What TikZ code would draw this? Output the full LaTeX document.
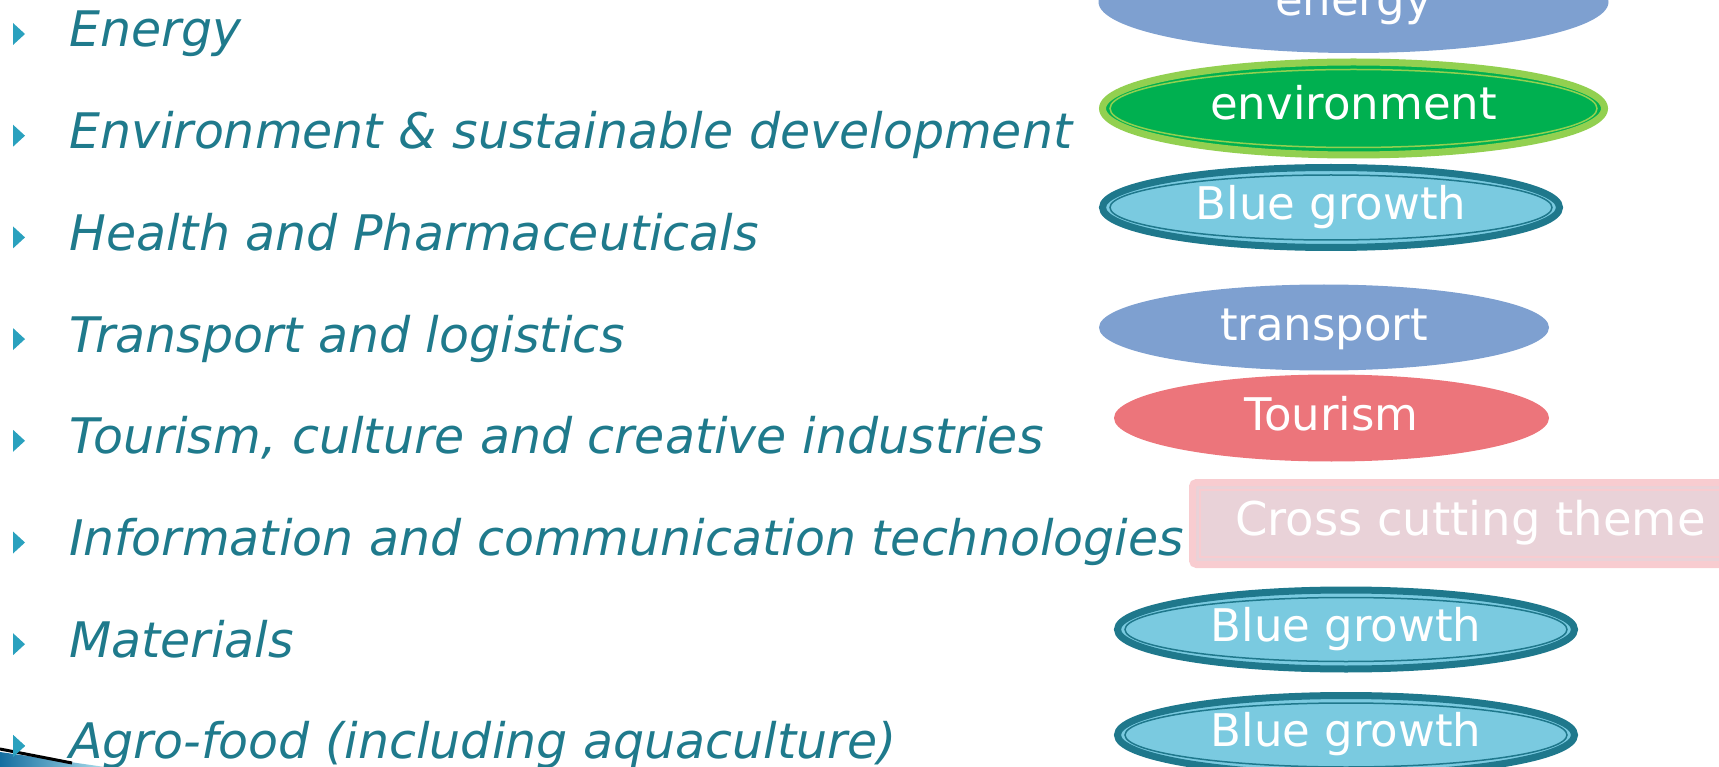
\documentclass[tikz,border=0pt]{standalone}
\usepackage{fontspec}
\setmainfont{DejaVu Sans}
\usetikzlibrary{shapes.geometric}
\definecolor{txt}{RGB}{31,122,140}
\definecolor{bulcol}{RGB}{42,161,190}
\definecolor{eblue}{RGB}{126,160,208}
\definecolor{egreen}{RGB}{0,176,80}
\definecolor{lgreen}{RGB}{146,208,80}
\definecolor{lblue}{RGB}{122,202,224}
\definecolor{dteal}{RGB}{31,120,140}
\definecolor{tred}{RGB}{236,117,123}
\definecolor{cfill}{RGB}{233,210,216}
\definecolor{cline}{RGB}{248,204,208}
\definecolor{swdark}{RGB}{20,110,160}
\definecolor{swlight}{RGB}{170,220,235}
\begin{document}
\begin{tikzpicture}[x=1pt,y=-1pt,
  item/.style={anchor=base west, inner sep=0pt, text=txt, font=\fontsize{49}{50}\selectfont\itshape},
  lab/.style={anchor=base, inner sep=0pt, text=white, font=\fontsize{45}{46}\selectfont},
  flatell/.style={ellipse, inner sep=0pt, draw=none},
  ringell/.style={ellipse, inner sep=0pt, line width=7pt},
  thinring/.style={line width=1.5pt},
]
\useasboundingbox (0,0) rectangle (1719,767);
\clip (0,0) rectangle (1719,767);

% bottom-left swoosh
\shade[left color=swdark, right color=swlight] (0,752) -- (105,767) -- (0,767) -- cycle;
\draw[black, line width=3pt] (0,749) -- (72,763);

% list items
\foreach \b in {47,148.7,250.4,352.1,453.8,555.5,657.2,758.9}
  \fill[bulcol] (13,\b-24) -- (13,\b-2) -- (25,\b-13) -- cycle;
\node[item] (i1) at (69,47)    {Energy};
\node[item] (i2) at (69,148.7) {Environment \& sustainable development};
\node[item] (i3) at (69,250.4) {Health and Pharmaceuticals};
\node[item] (i4) at (69,352.1) {Transport and logistics};
\node[item] (i5) at (69,453.8) {Tourism, culture and creative industries};
\node[item] (i6) at (69,555.5) {Information and communication technologies};
\node[item] (i7) at (69,657.2) {Materials};
\node[item] (i8) at (69,758.9) {Agro-food (including aquaculture)};

% energy
\node[flatell, fill=eblue, minimum width=510pt, minimum height=102pt] (energy) at (1353.5,2) {};
\node[lab] (energylab) at (1353.5,16) {energy};

% environment
\node[ringell, fill=egreen, draw=lgreen, minimum width=502pt, minimum height=93pt] (env) at (1353.5,108.5) {};
\draw[lgreen, thinring] (env.center) ellipse [x radius=243.5, y radius=39];
\node[lab] (envlab) at (1353.5,120) {environment};

% blue growth 1
\node[ringell, fill=lblue, draw=dteal, minimum width=457pt, minimum height=80pt] (bg1) at (1331,207.5) {};
\draw[dteal, thinring] (bg1.center) ellipse [x radius=221, y radius=32.5];
\node[lab] (bg1lab) at (1331,219.5) {Blue growth};

% transport
\node[flatell, fill=eblue, minimum width=450pt, minimum height=86pt] (trans) at (1324,327.5) {};
\node[lab] (translab) at (1324,341) {transport};

% tourism
\node[flatell, fill=tred, minimum width=435pt, minimum height=87pt] (tour) at (1331.5,418) {};
\node[lab] (tourlab) at (1331.5,430.5) {Tourism};

% cross cutting theme
\draw[cline, line width=7pt, fill=cfill, rounded corners=4pt] (1192.5,482.5) rectangle (1740,564.5);
\draw[cline, thinring] (1200,490) rectangle (1740,557);
\node[anchor=base west, inner sep=0pt, text=white, font=\fontsize{46.5}{47}\selectfont] (cross) at (1235,535.5) {Cross cutting theme};

% blue growth 2
\node[ringell, fill=lblue, draw=dteal, minimum width=457pt, minimum height=79pt] (bg2) at (1346,629.5) {};
\draw[dteal, thinring] (bg2.center) ellipse [x radius=221, y radius=32];
\node[lab] (bg2lab) at (1346,641) {Blue growth};

% blue growth 3
\node[ringell, fill=lblue, draw=dteal, minimum width=457pt, minimum height=79pt] (bg3) at (1346,735) {};
\draw[dteal, thinring] (bg3.center) ellipse [x radius=221, y radius=32];
\node[lab] (bg3lab) at (1346,746.5) {Blue growth};

% bullet over swoosh
\fill[bulcol] (13,758.9-24) -- (13,758.9-2) -- (25,758.9-13) -- cycle;
\end{tikzpicture}
\end{document}
